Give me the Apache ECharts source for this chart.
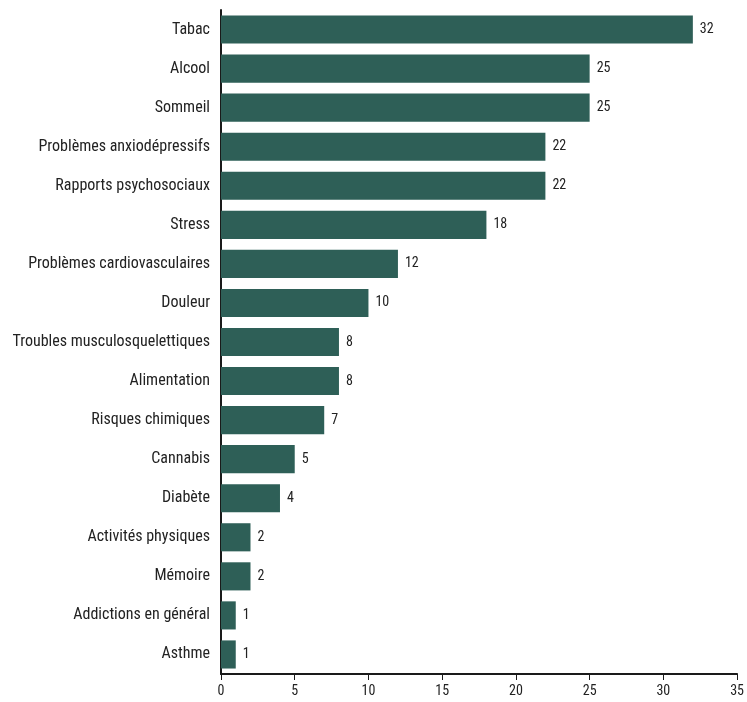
<!DOCTYPE html>
<html><head><meta charset="utf-8">
<script src="https://cdn.jsdelivr.net/npm/echarts@6/dist/echarts.min.js"></script>
<style>html,body{margin:0;padding:0;background:#fff}#c{width:747px;height:702px}</style>
</head><body><div id="c"></div>
<script>
var categories = ["Tabac","Alcool","Sommeil","Problèmes anxiodépressifs","Rapports psychosociaux","Stress","Problèmes cardiovasculaires","Douleur","Troubles musculosquelettiques","Alimentation","Risques chimiques","Cannabis","Diabète","Activités physiques","Mémoire","Addictions en général","Asthme"];
var values = [32,25,25,22,22,18,12,10,8,8,7,5,4,2,2,1,1];
var xTicks = [0,5,10,15,20,25,30,35];

var font = '"Liberation Sans Narrow","Roboto Condensed","DejaVu Sans Condensed",sans-serif';
var chart = echarts.init(document.getElementById('c'), null, {renderer:'canvas'});
chart.setOption({
  animation:false,
  grid:{left:221,right:8,top:10,bottom:28,containLabel:false},
  xAxis:{type:'value',min:0,max:35,interval:5,
    axisLine:{show:true,lineStyle:{color:'#1a1a1a',width:2}},
    axisTick:{show:true,length:6,lineStyle:{color:'#1a1a1a',width:1}},
    splitLine:{show:false},
    axisLabel:{color:'#222',fontFamily:font,fontSize:14,margin:10,
      formatter:function(v){return xTicks.indexOf(v)>=0?String(v):'';}}},
  yAxis:{type:'category',data:categories,inverse:true,
    axisLine:{show:true,lineStyle:{color:'#1a1a1a',width:2}},
    axisTick:{show:false},
    axisLabel:{color:'#222',fontFamily:font,fontSize:16,margin:11,padding:[4,0,0,0]}},
  series:[{type:'bar',data:values,barCategoryGap:'28%',
    itemStyle:{color:'#2e5f57'},
    label:{show:true,position:'right',distance:7,color:'#222',fontFamily:font,fontSize:14,padding:[3,0,0,0]}}]
});
</script></body></html>
